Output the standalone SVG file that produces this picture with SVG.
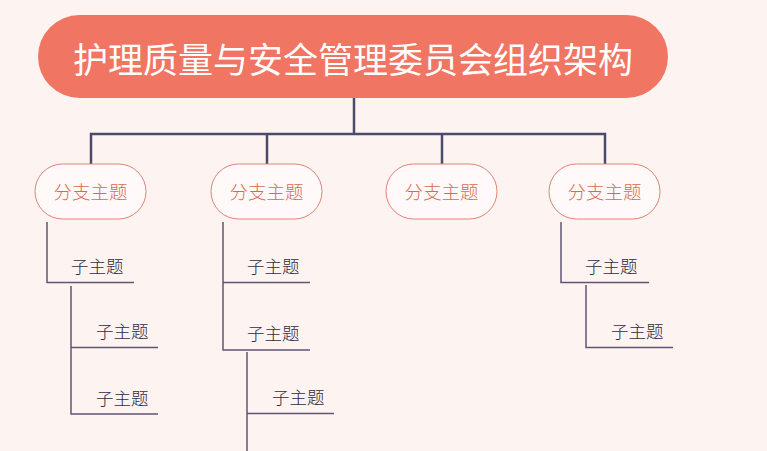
<svg xmlns="http://www.w3.org/2000/svg" width="767" height="451" viewBox="0 0 767 451">
<style>
.bg{fill:#fdf4f2}
.title{fill:#f07563}
.tt{font-family:"Noto Sans CJK SC","Noto Sans",sans-serif;font-size:35px;fill:#ffffff;text-anchor:middle}
.br{fill:#fffaf9;stroke:#e08272;stroke-width:1}
.bt{font-family:"Noto Sans CJK SC","Noto Sans",sans-serif;font-size:18.5px;font-weight:300;fill:#d9694f;text-anchor:middle}
.st{font-family:"Noto Sans CJK SC","Noto Sans",sans-serif;font-size:17.5px;font-weight:300;fill:#2f2b42}
.main{fill:none;stroke:#4b4a6b;stroke-width:2.5}
.sub{fill:none;stroke:#5e5572;stroke-width:1.5}
</style>
<rect class="bg" x="0" y="0" width="767" height="451"/>
<g id="connectors">
<path class="main" d="M354 98V134M91 164V134H605V164M267 134V164M442 134V164"/>
<path class="sub" d="M47 222V282.5H134M71 286V414H158M71 347.5H158"/>
<path class="sub" d="M223 222V350H310M223 282.5H310M247 352V451M247 413.5H334"/>
<path class="sub" d="M561 222V282.5H649M586 285V347.5H673"/>
</g>
<g id="root">
<rect class="title" x="38" y="15" width="630" height="83" rx="41.5"/>
<text class="tt" x="353" y="73">护理质量与安全管理委员会组织架构</text>
</g>
<g id="branch1">
<rect class="br" x="35" y="164" width="111" height="55" rx="27.5"/>
<text class="bt" x="90.5" y="199">分支主题</text>
</g>
<g id="branch2">
<rect class="br" x="211" y="164" width="111" height="55" rx="27.5"/>
<text class="bt" x="266.5" y="199">分支主题</text>
</g>
<g id="branch3">
<rect class="br" x="386" y="164" width="111" height="55" rx="27.5"/>
<text class="bt" x="441.5" y="199">分支主题</text>
</g>
<g id="branch4">
<rect class="br" x="549" y="164" width="111" height="55" rx="27.5"/>
<text class="bt" x="604.5" y="199">分支主题</text>
</g>
<g id="sub1a"><text class="st" x="71" y="273">子主题</text></g>
<g id="sub1b"><text class="st" x="96" y="338">子主题</text></g>
<g id="sub1c"><text class="st" x="96" y="405">子主题</text></g>
<g id="sub2a"><text class="st" x="247" y="273">子主题</text></g>
<g id="sub2b"><text class="st" x="247" y="340">子主题</text></g>
<g id="sub2c"><text class="st" x="272" y="404">子主题</text></g>
<g id="sub4a"><text class="st" x="585" y="273">子主题</text></g>
<g id="sub4b"><text class="st" x="611" y="338">子主题</text></g>
</svg>
